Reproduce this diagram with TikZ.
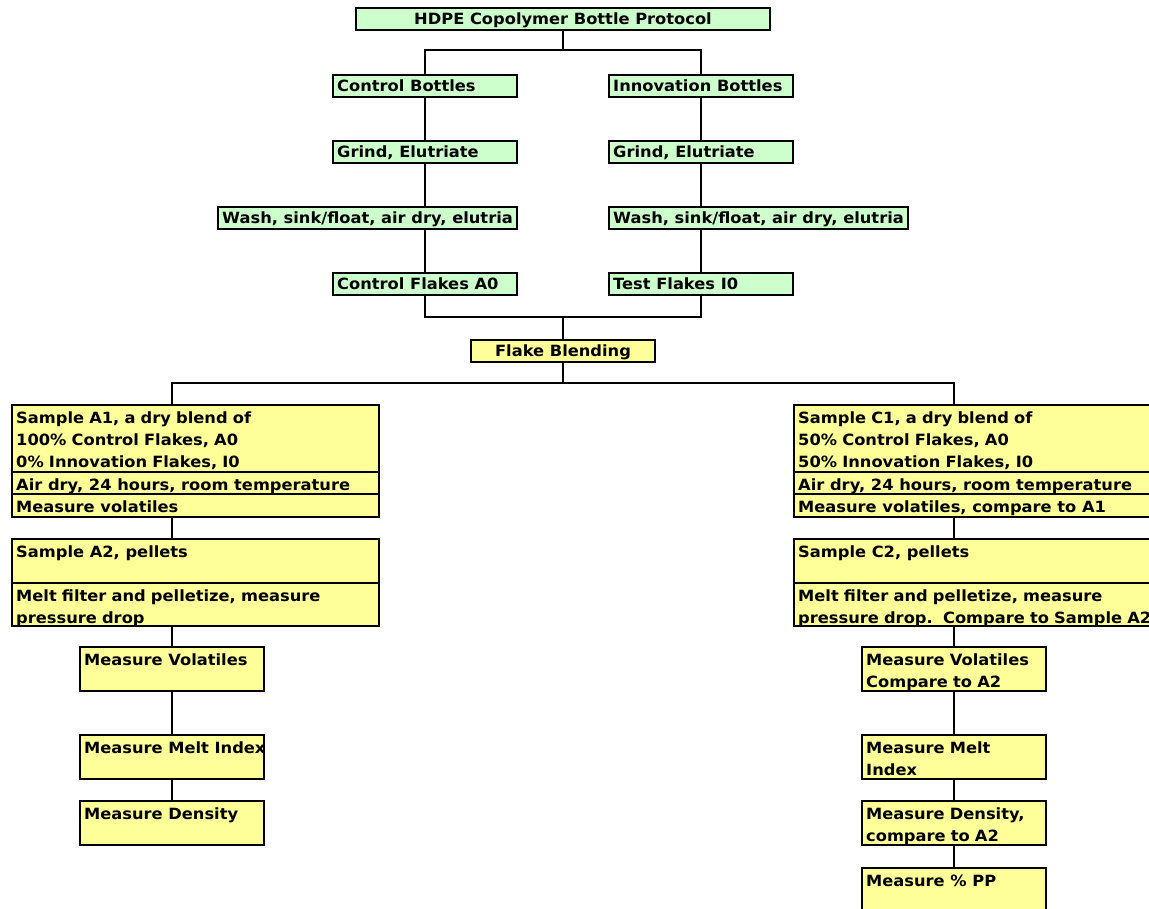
\documentclass[tikz,border=0pt]{standalone}
\usepackage{fontspec}
\setmainfont{DejaVu Sans}[FakeStretch=1.05]
\definecolor{boxgreen}{HTML}{CCFFCC}
\definecolor{boxyellow}{HTML}{FFFF99}
\newcommand{\mybox}[6]{\node[#2, minimum width=#5pt-#3pt, minimum height=#6pt-#4pt] (#1) at (#3,#4) {};}
\begin{document}
\begin{tikzpicture}[x=1pt,y=-1pt,
  box/.style={draw=black, line width=1.2pt, anchor=north west, inner sep=0pt, outer sep=0pt},
  gbox/.style={box, fill=boxgreen},
  ybox/.style={box, fill=boxyellow},
  txt/.style={anchor=base west, inner sep=0pt, font=\fontsize{15.5}{22}\selectfont\bfseries},
  mtxt/.style={txt, text width=420pt, align=left},
  conn/.style={draw=black, line width=1.2pt}]
\useasboundingbox (0,0) rectangle (1149,909);
\clip (0,0) rectangle (1149,909);
% green boxes
\mybox{hdpe}{gbox}{356}{8}{770}{30}
\mybox{cb}{gbox}{333}{75}{517}{97}
\mybox{ib}{gbox}{609}{75}{793}{97}
\mybox{geA}{gbox}{333}{141}{517}{163}
\mybox{geB}{gbox}{609}{141}{793}{163}
\mybox{wA}{gbox}{218}{207}{517}{229}
\mybox{wB}{gbox}{609}{207}{908}{229}
\mybox{cf}{gbox}{333}{273}{517}{295}
\mybox{tf}{gbox}{609}{273}{793}{295}
% yellow boxes
\mybox{fb}{ybox}{471}{340}{655}{362}
\mybox{aone}{ybox}{12}{405}{379}{517}
\mybox{atwo}{ybox}{12}{539}{379}{626}
\mybox{mvA}{ybox}{80}{647}{264}{691}
\mybox{miA}{ybox}{80}{735}{264}{779}
\mybox{mdA}{ybox}{80}{801}{264}{845}
\mybox{cone}{ybox}{794}{405}{1170}{517}
\mybox{ctwo}{ybox}{794}{539}{1170}{626}
\mybox{mvC}{ybox}{862}{647}{1046}{691}
\mybox{miC}{ybox}{862}{735}{1046}{779}
\mybox{mdC}{ybox}{862}{801}{1046}{845}
\mybox{pp}{ybox}{862}{868}{1046}{920}
% dividers
\draw[line width=1.2pt] (aone.west |- 0,472) coordinate (da1) -- (aone.east |- 0,472);
\draw[line width=1.2pt] (aone.west |- 0,494) coordinate (da2) -- (aone.east |- 0,494);
\draw[line width=1.2pt] (atwo.west |- 0,583) coordinate (da3) -- (atwo.east |- 0,583);
\draw[line width=1.2pt] (cone.west |- 0,472) coordinate (dc1) -- (cone.east |- 0,472);
\draw[line width=1.2pt] (cone.west |- 0,494) coordinate (dc2) -- (cone.east |- 0,494);
\draw[line width=1.2pt] (ctwo.west |- 0,583) coordinate (dc3) -- (ctwo.east |- 0,583);
% texts
\node[txt, anchor=base] (hdpeT) at ([yshift=-17pt]hdpe.north) {HDPE Copolymer Bottle Protocol};
\node[txt] (cbT) at ([xshift=4pt,yshift=-17pt]cb.north west) {Control Bottles};
\node[txt] (ibT) at ([xshift=4pt,yshift=-17pt]ib.north west) {Innovation Bottles};
\node[txt] (geAT) at ([xshift=4pt,yshift=-17pt]geA.north west) {Grind, Elutriate};
\node[txt] (geBT) at ([xshift=4pt,yshift=-17pt]geB.north west) {Grind, Elutriate};
\node[txt] (wAT) at ([xshift=4pt,yshift=-17pt]wA.north west) {Wash, sink/float, air dry, elutria};
\node[txt] (wBT) at ([xshift=4pt,yshift=-17pt]wB.north west) {Wash, sink/float, air dry, elutria};
\node[txt] (cfT) at ([xshift=4pt,yshift=-17pt]cf.north west) {Control Flakes A0};
\node[txt] (tfT) at ([xshift=4pt,yshift=-17pt]tf.north west) {Test Flakes I0};
\node[txt, anchor=base] (fbT) at ([yshift=-17pt]fb.north) {Flake Blending};
\node[mtxt] (a1T) at ([xshift=4pt,yshift=-18pt]aone.north west) {Sample A1, a dry blend of\\100\% Control Flakes, A0\\0\% Innovation Flakes, I0};
\node[txt] (a1U) at ([xshift=4pt,yshift=-18pt]da1) {Air dry, 24 hours, room temperature};
\node[txt] (a1V) at ([xshift=4pt,yshift=-18pt]da2) {Measure volatiles};
\node[txt] (a2T) at ([xshift=4pt,yshift=-18pt]atwo.north west) {Sample A2, pellets};
\node[mtxt] (a2U) at ([xshift=4pt,yshift=-18pt]da3) {Melt filter and pelletize, measure\\pressure drop};
\node[txt] (mvAT) at ([xshift=4pt,yshift=-18pt]mvA.north west) {Measure Volatiles};
\node[txt] (miAT) at ([xshift=4pt,yshift=-18pt]miA.north west) {Measure Melt Index};
\node[txt] (mdAT) at ([xshift=4pt,yshift=-18pt]mdA.north west) {Measure Density};
\node[mtxt] (c1T) at ([xshift=4pt,yshift=-18pt]cone.north west) {Sample C1, a dry blend of\\50\% Control Flakes, A0\\50\% Innovation Flakes, I0};
\node[txt] (c1U) at ([xshift=4pt,yshift=-18pt]dc1) {Air dry, 24 hours, room temperature};
\node[txt] (c1V) at ([xshift=4pt,yshift=-18pt]dc2) {Measure volatiles, compare to A1};
\node[txt] (c2T) at ([xshift=4pt,yshift=-18pt]ctwo.north west) {Sample C2, pellets};
\node[mtxt] (c2U) at ([xshift=4pt,yshift=-18pt]dc3) {Melt filter and pelletize, measure\\pressure drop.\ \ Compare to Sample A2};
\node[mtxt] (mvCT) at ([xshift=4pt,yshift=-18pt]mvC.north west) {Measure Volatiles\\Compare to A2};
\node[mtxt] (miCT) at ([xshift=4pt,yshift=-18pt]miC.north west) {Measure Melt\\Index};
\node[mtxt] (mdCT) at ([xshift=4pt,yshift=-18pt]mdC.north west) {Measure Density,\\compare to A2};
\node[txt] (ppT) at ([xshift=4pt,yshift=-18pt]pp.north west) {Measure \% PP};
% connectors
\draw[conn] (hdpe.south) -- ++(0,20) coordinate (j1);
\draw[conn] (cb.north) |- (j1) -| (ib.north);
\draw[conn] (cb.south) -- (geA.north);
\draw[conn] (ib.south) -- (geB.north);
\draw[conn] (geA.south) -- (geA.south |- wA.north);
\draw[conn] (geB.south) -- (geB.south |- wB.north);
\draw[conn] (cf.north |- wA.south) -- (cf.north);
\draw[conn] (tf.north |- wB.south) -- (tf.north);
\draw[conn] (fb.north) -- ++(0,-23) coordinate (j2);
\draw[conn] (cf.south) |- (j2) -| (tf.south);
\draw[conn] (fb.south) -- ++(0,21) coordinate (j3);
\draw[conn] (aone.north -| mvA.north) |- (j3) -| (cone.north -| mvC.north);
\draw[conn] (aone.south -| mvA.north) -- (atwo.north -| mvA.north);
\draw[conn] (atwo.south -| mvA.north) -- (mvA.north);
\draw[conn] (mvA.south) -- (miA.north);
\draw[conn] (miA.south) -- (mdA.north);
\draw[conn] (cone.south -| mvC.north) -- (ctwo.north -| mvC.north);
\draw[conn] (ctwo.south -| mvC.north) -- (mvC.north);
\draw[conn] (mvC.south) -- (miC.north);
\draw[conn] (miC.south) -- (mdC.north);
\draw[conn] (mdC.south) -- (pp.north);
\end{tikzpicture}
\end{document}
